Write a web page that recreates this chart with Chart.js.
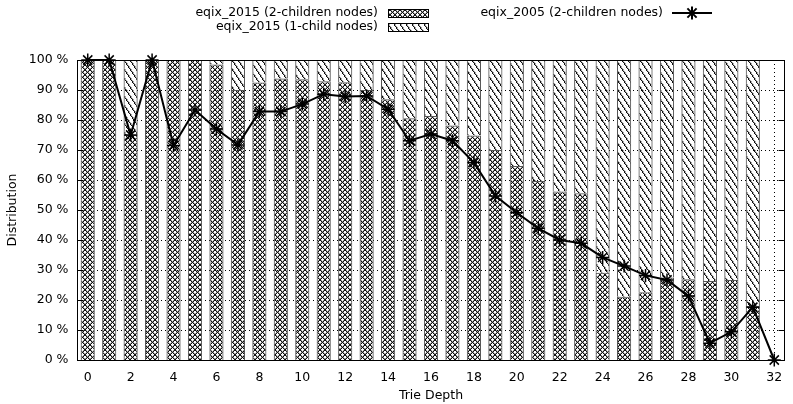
<!DOCTYPE html>
<html><head><meta charset="utf-8">
<script src="https://cdn.jsdelivr.net/npm/chart.js@4/dist/chart.umd.min.js"></script>
<style>html,body{margin:0;padding:0;background:#fff}#wrap{width:793px;height:404px;position:relative}</style>
</head><body><div id="wrap"><canvas id="c"></canvas></div>
<script>
const depths = ['0','1','2','3','4','5','6','7','8','9','10','11','12','13','14','15','16','17','18','19','20','21','22','23','24','25','26','27','28','29','30','31','32'];
const twoChildren2015 = [100,100,75,100,100,100,98.5,90,92.5,93.8,93.6,92.9,92.6,90,86.9,80.6,81.3,78.2,74.8,70,64.7,59.7,56.2,55.6,29.1,21.1,22.6,27.5,26.9,26.3,26.7,18,0];
const oneChild2015 = [0,0,25,0,0,0,1.5,10,7.5,6.2,6.4,7.1,7.4,10,13.1,19.4,18.7,21.8,25.2,30,35.3,40.3,43.8,44.4,70.9,78.9,77.4,72.5,73.1,73.7,73.3,82,0];
const twoChildren2005 = [100,100,75,100,71.5,83.3,77,71.7,82.8,82.8,85.3,88.6,87.8,88,83.6,73.1,75.3,73.1,65.8,54.7,49.1,43.9,40,38.9,34.2,31.3,28.2,26.7,21.3,5.6,9.4,17.6,0];
const yTicks = [0,10,20,30,40,50,60,70,80,90,100];

const FONT = '"DejaVu Sans", sans-serif';

function makeCross(){
  const s=5, c=document.createElement('canvas'); c.width=s; c.height=s;
  const g=c.getContext('2d');
  g.fillStyle='#999';
  for(let i=0;i<s;i++){ g.fillRect((i+1)%s,i,1,1); g.fillRect((2*s-2-i)%s,i,1,1); }
  g.fillStyle='#111';
  for(let i=0;i<s;i++){ g.fillRect(i,i,1,1); g.fillRect(s-1-i,i,1,1); }
  return g.createPattern(c,'repeat');
}
function makeHatch(){
  const w=6,h=9, c=document.createElement('canvas'); c.width=w; c.height=h;
  const g=c.getContext('2d');
  g.fillStyle='#aaa';
  for(let y=0;y<h;y++){ const x=Math.floor(y*w/h); g.fillRect((x+1)%w,y,1,1); }
  g.fillStyle='#111';
  for(let y=0;y<h;y++){ const x=Math.floor(y*w/h); g.fillRect(x,y,1,1); }
  return g.createPattern(c,'repeat');
}
const crossPat = makeCross();
const hatchPat = makeHatch();

const framePlugin = {
  id:'frame',
  beforeDatasetsDraw(chart){
    const {ctx, chartArea:a, scales:{x,y}} = chart;
    ctx.save();
    ctx.strokeStyle='#000'; ctx.lineWidth=1; ctx.setLineDash([1,3]);
    yTicks.forEach(v=>{ if(v<=0||v>=100) return; const py=Math.round(y.getPixelForValue(v))+0.5;
      ctx.beginPath(); ctx.moveTo(a.left,py); ctx.lineTo(a.right,py); ctx.stroke(); });
    const px=Math.round(x.getPixelForValue(32))+0.5;
    ctx.beginPath(); ctx.moveTo(px,a.top); ctx.lineTo(px,a.bottom); ctx.stroke();
    ctx.restore();
  },
  afterDatasetsDraw(chart){
    const {ctx, chartArea:a, scales:{y}} = chart;
    ctx.save();
    ctx.strokeStyle='#000'; ctx.lineWidth=1; ctx.setLineDash([]);
    const L=Math.round(a.left)+0.5, R=Math.min(Math.round(a.right),chart.width)-0.5, T=Math.round(a.top)+0.5, B=Math.round(a.bottom)+0.5;
    ctx.strokeRect(L,T,R-L,B-T);
    yTicks.forEach(v=>{ const py=Math.round(y.getPixelForValue(v))+0.5;
      ctx.beginPath(); ctx.moveTo(L,py); ctx.lineTo(L+6,py); ctx.moveTo(R,py); ctx.lineTo(R-6,py); ctx.stroke(); });
    ctx.restore();
  },
  afterDraw(chart){
    const ctx=chart.ctx, ds=chart.data.datasets;
    ctx.save();
    ctx.font='12.5px '+FONT; ctx.fillStyle='#000'; ctx.textAlign='right'; ctx.textBaseline='middle';
    ctx.fillText(ds[0].label, 378, 13);
    ctx.fillText(ds[1].label, 378, 27);
    ctx.fillText(ds[2].label, 663, 13);
    ctx.fillStyle=crossPat; ctx.fillRect(388,9,40,8);
    ctx.fillStyle=hatchPat; ctx.fillRect(388,23,40,8);
    ctx.strokeStyle='#000'; ctx.lineWidth=1;
    ctx.strokeRect(388.5,9.5,40,8); ctx.strokeRect(388.5,23.5,40,8);
    ctx.lineWidth=2; ctx.beginPath(); ctx.moveTo(672,13); ctx.lineTo(712,13); ctx.stroke();
    Chart.helpers.drawPoint(ctx,{pointStyle:'star',radius:6.5,borderWidth:1.5},692,13);
    ctx.restore();
  }
};

new Chart(document.getElementById('c'), {
  type:'bar',
  data:{
    labels: depths,
    datasets:[
      {label:'eqix_2015 (2-children nodes)', data:twoChildren2015, backgroundColor:crossPat, borderColor:'#555', borderWidth:1, stack:'s', order:2, barPercentage:0.66, categoryPercentage:1},
      {label:'eqix_2015 (1-child nodes)', data:oneChild2015, backgroundColor:hatchPat, borderColor:'#555', borderWidth:1, stack:'s', order:2, barPercentage:0.66, categoryPercentage:1},
      {type:'line', label:'eqix_2005 (2-children nodes)', data:twoChildren2005, borderColor:'#000', borderWidth:2, pointStyle:'star', pointRadius:6.5, pointBorderWidth:1.5, pointBorderColor:'#000', pointBackgroundColor:'#000', stack:'line', order:0, clip:false, tension:0}
    ]
  },
  options:{
    responsive:true, maintainAspectRatio:false, animation:false, devicePixelRatio:1,
    layout:{padding:{top:60,left:0,right:0,bottom:0}},
    plugins:{legend:{display:false}, tooltip:{enabled:false}},
    scales:{
      x:{
        stacked:true, offset:true,
        grid:{display:false, drawTicks:false},
        border:{display:false},
        ticks:{autoSkip:false, maxRotation:0, padding:10, color:'#000', font:{family:FONT,size:12.5},
          callback:function(v,i){ const l=this.getLabelForValue(v); return (+l)%2===0 ? l : ''; }},
        title:{display:true, text:'Trie Depth', color:'#000', font:{family:FONT,size:12.5}, padding:{top:0,bottom:1}},
        afterFit(s){ s.height=44; }
      },
      y:{
        stacked:true, min:0, max:100,
        grid:{display:false, drawTicks:false},
        border:{display:false},
        ticks:{stepSize:10, padding:8.5, color:'#000', font:{family:FONT,size:12.5}, callback:v=>v+' %'},
        title:{display:true, text:'Distribution', color:'#000', font:{family:FONT,size:12.5}, padding:{top:5.5,bottom:0}},
        afterFit(s){ s.width=77; }
      }
    }
  },
  plugins:[framePlugin]
});
</script>
</body></html>
